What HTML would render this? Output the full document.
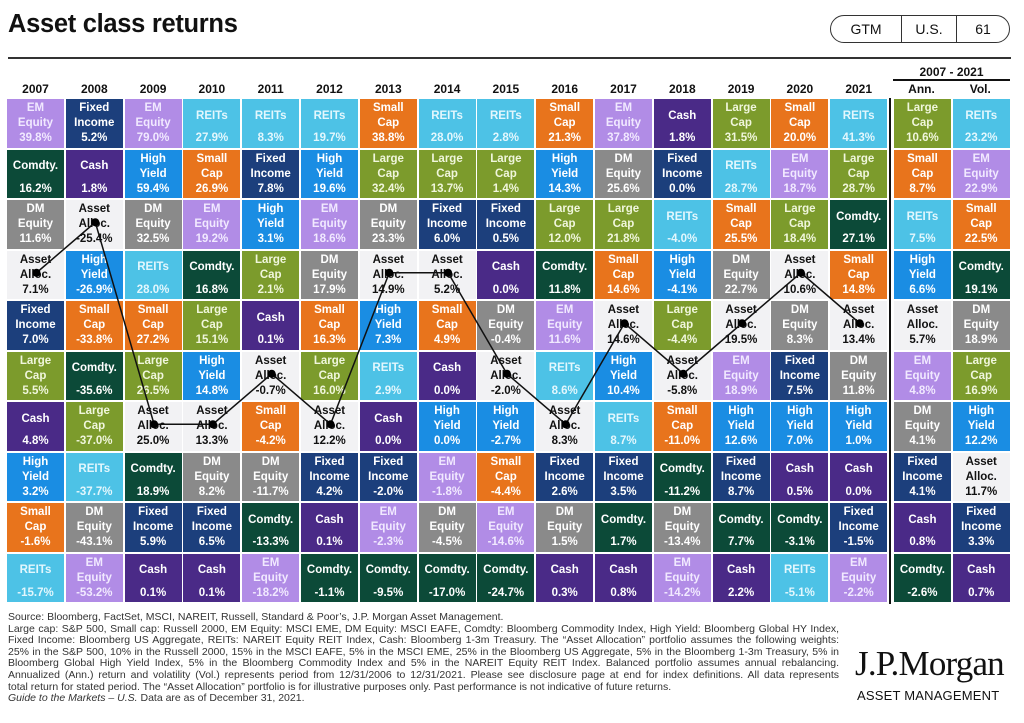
<!DOCTYPE html>
<html><head><meta charset="utf-8"><style>
*{margin:0;padding:0;box-sizing:border-box}
body{width:1024px;height:723px;background:#fff;position:relative;overflow:hidden;font-family:"Liberation Sans",Arial,sans-serif;color:#111}
.t{position:absolute;left:8px;top:10px;font-size:25.5px;font-weight:bold;letter-spacing:-0.3px}
.rule{position:absolute;left:8px;top:57px;width:1003px;height:2px;background:#333}
.gtm{position:absolute;left:830px;top:15px;width:180px;height:28px;border:1px solid #333;border-radius:14px;display:flex;font-size:14px;line-height:26px;text-align:center}
.gtm span{flex:none}
.hdr{position:absolute;top:82px;font-size:12px;font-weight:bold;text-align:center;width:57px}
.g{position:absolute;left:7px;top:99px;display:grid;grid-template-columns:repeat(15,57px) 3.2px 57px 57px;grid-auto-rows:48.5px;column-gap:1.8px;row-gap:2px}
.g>div{padding-top:2px;text-align:center;font-weight:bold;font-size:11.5px;color:#fff}
.g>div>p{height:30px;display:flex;align-items:center;justify-content:center;line-height:15px}
.g>div>b{display:block;line-height:15px}
.em{background:#b18ce6;color:#f1e9ff!important}
.fi{background:#1c3f7c}
.re{background:#4dc2e6;color:#e3f7fd!important}
.co{background:#0c4a38}
.ca{background:#4a2a87}
.hy{background:#1a8de3}
.sc{background:#e8741c}
.lc{background:#7c9b2c;color:#f0f6dc!important}
.dm{background:#8a8a8a}
.aa{background:#f2f2f4;color:#111!important}
.ft{position:absolute;left:8px;top:612px;font-size:10.5px;line-height:11.6px;color:#333;width:831px}
.ft div{white-space:nowrap;overflow:hidden;height:11.6px}
.ft .j{text-align:justify;text-align-last:justify;white-space:normal}
</style></head><body>
<div class="t">Asset class returns</div>
<div class="rule"></div>
<div class="gtm"><span style="width:71px;border-right:1px solid #333">GTM</span><span style="width:55px;border-right:1px solid #333">U.S.</span><span style="width:52px">61</span></div>
<div class="hdr" style="left:7px">2007</div><div class="hdr" style="left:65.8px">2008</div><div class="hdr" style="left:124.6px">2009</div><div class="hdr" style="left:183.4px">2010</div><div class="hdr" style="left:242.2px">2011</div><div class="hdr" style="left:301px">2012</div><div class="hdr" style="left:359.8px">2013</div><div class="hdr" style="left:418.6px">2014</div><div class="hdr" style="left:477.4px">2015</div><div class="hdr" style="left:536.2px">2016</div><div class="hdr" style="left:595px">2017</div><div class="hdr" style="left:653.8px">2018</div><div class="hdr" style="left:712.6px">2019</div><div class="hdr" style="left:771.4px">2020</div><div class="hdr" style="left:830.2px">2021</div>
<div class="hdr" style="left:893px">Ann.</div><div class="hdr" style="left:951.8px">Vol.</div>
<div class="hdr" style="left:893px;top:65px;width:117px">2007 - 2021</div>
<div style="position:absolute;left:893px;top:79px;width:117px;height:2px;background:#111"></div>
<div style="position:absolute;left:889px;top:98px;width:2px;height:506px;background:#111"></div>
<div class="g">
<div class="em"><p>EM<br>Equity</p><b>39.8%</b></div><div class="fi"><p>Fixed<br>Income</p><b>5.2%</b></div><div class="em"><p>EM<br>Equity</p><b>79.0%</b></div><div class="re"><p>REITs</p><b>27.9%</b></div><div class="re"><p>REITs</p><b>8.3%</b></div><div class="re"><p>REITs</p><b>19.7%</b></div><div class="sc"><p>Small<br>Cap</p><b>38.8%</b></div><div class="re"><p>REITs</p><b>28.0%</b></div><div class="re"><p>REITs</p><b>2.8%</b></div><div class="sc"><p>Small<br>Cap</p><b>21.3%</b></div><div class="em"><p>EM<br>Equity</p><b>37.8%</b></div><div class="ca"><p>Cash</p><b>1.8%</b></div><div class="lc"><p>Large<br>Cap</p><b>31.5%</b></div><div class="sc"><p>Small<br>Cap</p><b>20.0%</b></div><div class="re"><p>REITs</p><b>41.3%</b></div><i></i><div class="lc"><p>Large<br>Cap</p><b>10.6%</b></div><div class="re"><p>REITs</p><b>23.2%</b></div>
<div class="co"><p>Comdty.</p><b>16.2%</b></div><div class="ca"><p>Cash</p><b>1.8%</b></div><div class="hy"><p>High<br>Yield</p><b>59.4%</b></div><div class="sc"><p>Small<br>Cap</p><b>26.9%</b></div><div class="fi"><p>Fixed<br>Income</p><b>7.8%</b></div><div class="hy"><p>High<br>Yield</p><b>19.6%</b></div><div class="lc"><p>Large<br>Cap</p><b>32.4%</b></div><div class="lc"><p>Large<br>Cap</p><b>13.7%</b></div><div class="lc"><p>Large<br>Cap</p><b>1.4%</b></div><div class="hy"><p>High<br>Yield</p><b>14.3%</b></div><div class="dm"><p>DM<br>Equity</p><b>25.6%</b></div><div class="fi"><p>Fixed<br>Income</p><b>0.0%</b></div><div class="re"><p>REITs</p><b>28.7%</b></div><div class="em"><p>EM<br>Equity</p><b>18.7%</b></div><div class="lc"><p>Large<br>Cap</p><b>28.7%</b></div><i></i><div class="sc"><p>Small<br>Cap</p><b>8.7%</b></div><div class="em"><p>EM<br>Equity</p><b>22.9%</b></div>
<div class="dm"><p>DM<br>Equity</p><b>11.6%</b></div><div class="aa"><p>Asset<br>Alloc.</p><b>-25.4%</b></div><div class="dm"><p>DM<br>Equity</p><b>32.5%</b></div><div class="em"><p>EM<br>Equity</p><b>19.2%</b></div><div class="hy"><p>High<br>Yield</p><b>3.1%</b></div><div class="em"><p>EM<br>Equity</p><b>18.6%</b></div><div class="dm"><p>DM<br>Equity</p><b>23.3%</b></div><div class="fi"><p>Fixed<br>Income</p><b>6.0%</b></div><div class="fi"><p>Fixed<br>Income</p><b>0.5%</b></div><div class="lc"><p>Large<br>Cap</p><b>12.0%</b></div><div class="lc"><p>Large<br>Cap</p><b>21.8%</b></div><div class="re"><p>REITs</p><b>-4.0%</b></div><div class="sc"><p>Small<br>Cap</p><b>25.5%</b></div><div class="lc"><p>Large<br>Cap</p><b>18.4%</b></div><div class="co"><p>Comdty.</p><b>27.1%</b></div><i></i><div class="re"><p>REITs</p><b>7.5%</b></div><div class="sc"><p>Small<br>Cap</p><b>22.5%</b></div>
<div class="aa"><p>Asset<br>Alloc.</p><b>7.1%</b></div><div class="hy"><p>High<br>Yield</p><b>-26.9%</b></div><div class="re"><p>REITs</p><b>28.0%</b></div><div class="co"><p>Comdty.</p><b>16.8%</b></div><div class="lc"><p>Large<br>Cap</p><b>2.1%</b></div><div class="dm"><p>DM<br>Equity</p><b>17.9%</b></div><div class="aa"><p>Asset<br>Alloc.</p><b>14.9%</b></div><div class="aa"><p>Asset<br>Alloc.</p><b>5.2%</b></div><div class="ca"><p>Cash</p><b>0.0%</b></div><div class="co"><p>Comdty.</p><b>11.8%</b></div><div class="sc"><p>Small<br>Cap</p><b>14.6%</b></div><div class="hy"><p>High<br>Yield</p><b>-4.1%</b></div><div class="dm"><p>DM<br>Equity</p><b>22.7%</b></div><div class="aa"><p>Asset<br>Alloc.</p><b>10.6%</b></div><div class="sc"><p>Small<br>Cap</p><b>14.8%</b></div><i></i><div class="hy"><p>High<br>Yield</p><b>6.6%</b></div><div class="co"><p>Comdty.</p><b>19.1%</b></div>
<div class="fi"><p>Fixed<br>Income</p><b>7.0%</b></div><div class="sc"><p>Small<br>Cap</p><b>-33.8%</b></div><div class="sc"><p>Small<br>Cap</p><b>27.2%</b></div><div class="lc"><p>Large<br>Cap</p><b>15.1%</b></div><div class="ca"><p>Cash</p><b>0.1%</b></div><div class="sc"><p>Small<br>Cap</p><b>16.3%</b></div><div class="hy"><p>High<br>Yield</p><b>7.3%</b></div><div class="sc"><p>Small<br>Cap</p><b>4.9%</b></div><div class="dm"><p>DM<br>Equity</p><b>-0.4%</b></div><div class="em"><p>EM<br>Equity</p><b>11.6%</b></div><div class="aa"><p>Asset<br>Alloc.</p><b>14.6%</b></div><div class="lc"><p>Large<br>Cap</p><b>-4.4%</b></div><div class="aa"><p>Asset<br>Alloc.</p><b>19.5%</b></div><div class="dm"><p>DM<br>Equity</p><b>8.3%</b></div><div class="aa"><p>Asset<br>Alloc.</p><b>13.4%</b></div><i></i><div class="aa"><p>Asset<br>Alloc.</p><b>5.7%</b></div><div class="dm"><p>DM<br>Equity</p><b>18.9%</b></div>
<div class="lc"><p>Large<br>Cap</p><b>5.5%</b></div><div class="co"><p>Comdty.</p><b>-35.6%</b></div><div class="lc"><p>Large<br>Cap</p><b>26.5%</b></div><div class="hy"><p>High<br>Yield</p><b>14.8%</b></div><div class="aa"><p>Asset<br>Alloc.</p><b>-0.7%</b></div><div class="lc"><p>Large<br>Cap</p><b>16.0%</b></div><div class="re"><p>REITs</p><b>2.9%</b></div><div class="ca"><p>Cash</p><b>0.0%</b></div><div class="aa"><p>Asset<br>Alloc.</p><b>-2.0%</b></div><div class="re"><p>REITs</p><b>8.6%</b></div><div class="hy"><p>High<br>Yield</p><b>10.4%</b></div><div class="aa"><p>Asset<br>Alloc.</p><b>-5.8%</b></div><div class="em"><p>EM<br>Equity</p><b>18.9%</b></div><div class="fi"><p>Fixed<br>Income</p><b>7.5%</b></div><div class="dm"><p>DM<br>Equity</p><b>11.8%</b></div><i></i><div class="em"><p>EM<br>Equity</p><b>4.8%</b></div><div class="lc"><p>Large<br>Cap</p><b>16.9%</b></div>
<div class="ca"><p>Cash</p><b>4.8%</b></div><div class="lc"><p>Large<br>Cap</p><b>-37.0%</b></div><div class="aa"><p>Asset<br>Alloc.</p><b>25.0%</b></div><div class="aa"><p>Asset<br>Alloc.</p><b>13.3%</b></div><div class="sc"><p>Small<br>Cap</p><b>-4.2%</b></div><div class="aa"><p>Asset<br>Alloc.</p><b>12.2%</b></div><div class="ca"><p>Cash</p><b>0.0%</b></div><div class="hy"><p>High<br>Yield</p><b>0.0%</b></div><div class="hy"><p>High<br>Yield</p><b>-2.7%</b></div><div class="aa"><p>Asset<br>Alloc.</p><b>8.3%</b></div><div class="re"><p>REITs</p><b>8.7%</b></div><div class="sc"><p>Small<br>Cap</p><b>-11.0%</b></div><div class="hy"><p>High<br>Yield</p><b>12.6%</b></div><div class="hy"><p>High<br>Yield</p><b>7.0%</b></div><div class="hy"><p>High<br>Yield</p><b>1.0%</b></div><i></i><div class="dm"><p>DM<br>Equity</p><b>4.1%</b></div><div class="hy"><p>High<br>Yield</p><b>12.2%</b></div>
<div class="hy"><p>High<br>Yield</p><b>3.2%</b></div><div class="re"><p>REITs</p><b>-37.7%</b></div><div class="co"><p>Comdty.</p><b>18.9%</b></div><div class="dm"><p>DM<br>Equity</p><b>8.2%</b></div><div class="dm"><p>DM<br>Equity</p><b>-11.7%</b></div><div class="fi"><p>Fixed<br>Income</p><b>4.2%</b></div><div class="fi"><p>Fixed<br>Income</p><b>-2.0%</b></div><div class="em"><p>EM<br>Equity</p><b>-1.8%</b></div><div class="sc"><p>Small<br>Cap</p><b>-4.4%</b></div><div class="fi"><p>Fixed<br>Income</p><b>2.6%</b></div><div class="fi"><p>Fixed<br>Income</p><b>3.5%</b></div><div class="co"><p>Comdty.</p><b>-11.2%</b></div><div class="fi"><p>Fixed<br>Income</p><b>8.7%</b></div><div class="ca"><p>Cash</p><b>0.5%</b></div><div class="ca"><p>Cash</p><b>0.0%</b></div><i></i><div class="fi"><p>Fixed<br>Income</p><b>4.1%</b></div><div class="aa"><p>Asset<br>Alloc.</p><b>11.7%</b></div>
<div class="sc"><p>Small<br>Cap</p><b>-1.6%</b></div><div class="dm"><p>DM<br>Equity</p><b>-43.1%</b></div><div class="fi"><p>Fixed<br>Income</p><b>5.9%</b></div><div class="fi"><p>Fixed<br>Income</p><b>6.5%</b></div><div class="co"><p>Comdty.</p><b>-13.3%</b></div><div class="ca"><p>Cash</p><b>0.1%</b></div><div class="em"><p>EM<br>Equity</p><b>-2.3%</b></div><div class="dm"><p>DM<br>Equity</p><b>-4.5%</b></div><div class="em"><p>EM<br>Equity</p><b>-14.6%</b></div><div class="dm"><p>DM<br>Equity</p><b>1.5%</b></div><div class="co"><p>Comdty.</p><b>1.7%</b></div><div class="dm"><p>DM<br>Equity</p><b>-13.4%</b></div><div class="co"><p>Comdty.</p><b>7.7%</b></div><div class="co"><p>Comdty.</p><b>-3.1%</b></div><div class="fi"><p>Fixed<br>Income</p><b>-1.5%</b></div><i></i><div class="ca"><p>Cash</p><b>0.8%</b></div><div class="fi"><p>Fixed<br>Income</p><b>3.3%</b></div>
<div class="re"><p>REITs</p><b>-15.7%</b></div><div class="em"><p>EM<br>Equity</p><b>-53.2%</b></div><div class="ca"><p>Cash</p><b>0.1%</b></div><div class="ca"><p>Cash</p><b>0.1%</b></div><div class="em"><p>EM<br>Equity</p><b>-18.2%</b></div><div class="co"><p>Comdty.</p><b>-1.1%</b></div><div class="co"><p>Comdty.</p><b>-9.5%</b></div><div class="co"><p>Comdty.</p><b>-17.0%</b></div><div class="co"><p>Comdty.</p><b>-24.7%</b></div><div class="ca"><p>Cash</p><b>0.3%</b></div><div class="ca"><p>Cash</p><b>0.8%</b></div><div class="em"><p>EM<br>Equity</p><b>-14.2%</b></div><div class="ca"><p>Cash</p><b>2.2%</b></div><div class="re"><p>REITs</p><b>-5.1%</b></div><div class="em"><p>EM<br>Equity</p><b>-2.2%</b></div><i></i><div class="co"><p>Comdty.</p><b>-2.6%</b></div><div class="ca"><p>Cash</p><b>0.7%</b></div>
</div>
<svg style="position:absolute;left:0;top:0" width="1024" height="723">
<polyline fill="none" stroke="#111" stroke-width="1.5" points="36.5,272.75 95.3,222.25 154.1,424.25 212.9,424.25 271.7,373.75 330.5,424.25 389.3,272.75 448.1,272.75 506.9,373.75 565.7,424.25 624.5,323.25 683.3,373.75 742.1,323.25 800.9,272.75 859.7,323.25"/>
<g fill="#000"><circle cx="36.5" cy="272.75" r="4"/><circle cx="95.3" cy="222.25" r="4"/><circle cx="154.1" cy="424.25" r="4"/><circle cx="212.9" cy="424.25" r="4"/><circle cx="271.7" cy="373.75" r="4"/><circle cx="330.5" cy="424.25" r="4"/><circle cx="389.3" cy="272.75" r="4"/><circle cx="448.1" cy="272.75" r="4"/><circle cx="506.9" cy="373.75" r="4"/><circle cx="565.7" cy="424.25" r="4"/><circle cx="624.5" cy="323.25" r="4"/><circle cx="683.3" cy="373.75" r="4"/><circle cx="742.1" cy="323.25" r="4"/><circle cx="800.9" cy="272.75" r="4"/><circle cx="859.7" cy="323.25" r="4"/></g>
</svg>
<div class="ft">
<div>Source: Bloomberg, FactSet, MSCI, NAREIT, Russell, Standard &amp; Poor’s, J.P. Morgan Asset Management.</div>
<div class="j">Large cap: S&amp;P 500, Small cap: Russell 2000, EM Equity: MSCI EME, DM Equity: MSCI EAFE, Comdty: Bloomberg Commodity Index, High Yield: Bloomberg Global HY Index,</div>
<div class="j">Fixed Income: Bloomberg US Aggregate, REITs: NAREIT Equity REIT Index, Cash: Bloomberg 1-3m Treasury. The “Asset Allocation” portfolio assumes the following weights:</div>
<div class="j">25% in the S&amp;P 500, 10% in the Russell 2000, 15% in the MSCI EAFE, 5% in the MSCI EME, 25% in the Bloomberg US Aggregate, 5% in the Bloomberg 1-3m Treasury, 5% in the</div>
<div class="j">Bloomberg Global High Yield Index, 5% in the Bloomberg Commodity Index and 5% in the NAREIT Equity REIT Index. Balanced portfolio assumes annual rebalancing.</div>
<div class="j">Annualized (Ann.) return and volatility (Vol.) represents period from 12/31/2006 to 12/31/2021. Please see disclosure page at end for index definitions. All data represents</div>
<div>total return for stated period. The “Asset Allocation” portfolio is for illustrative purposes only. Past performance is not indicative of future returns.</div>
<div><i>Guide to the Markets – U.S.</i> Data are as of December 31, 2021.</div>
</div>
<div style="position:absolute;left:855px;top:644px;font-family:'Liberation Serif',serif;font-size:35px;letter-spacing:-0.8px;color:#111">J.P.Morgan</div>
<div style="position:absolute;left:857px;top:688px;font-size:13px;letter-spacing:0.2px;color:#111">ASSET MANAGEMENT</div>
</body></html>
